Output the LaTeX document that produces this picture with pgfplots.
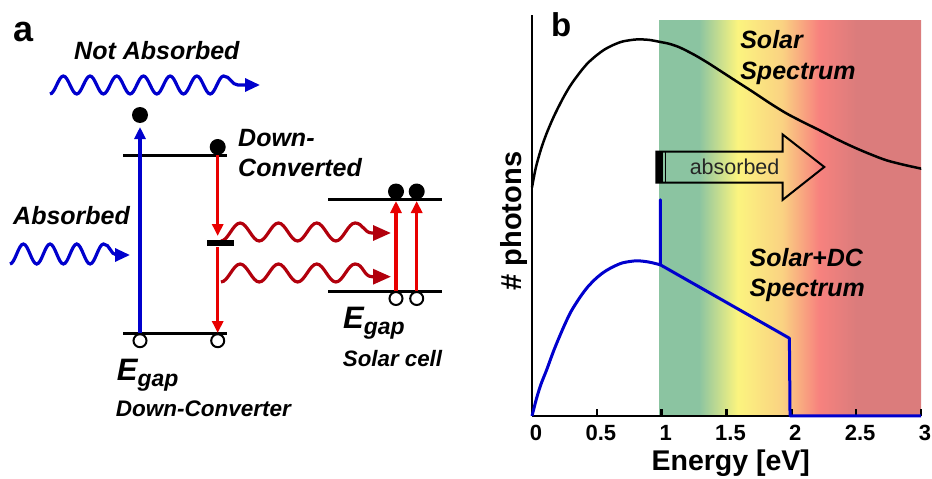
\documentclass[border=0pt]{standalone}
\usepackage{pgfplots}
\pgfplotsset{compat=1.18}
\usepackage{fontspec}
\setmainfont{Liberation Sans}
\usetikzlibrary{arrows.meta}

\definecolor{lineblue}{RGB}{0,0,205}
\definecolor{arrowred}{RGB}{232,0,0}
\definecolor{photonred}{RGB}{178,0,12}
\definecolor{bandgreen}{RGB}{139,196,161}
\definecolor{bandyellow}{RGB}{251,244,127}
\definecolor{bandorange}{RGB}{250,210,130}
\definecolor{bandsalmon}{RGB}{247,130,126}
\definecolor{bandred}{RGB}{219,124,124}

% spectral colour band: the usable part runs from 25bp to 75bp
\pgfdeclarehorizontalshading{solarband}{100bp}{%
  color(0bp)=(bandgreen); color(25bp)=(bandgreen); color(32.6bp)=(bandgreen);
  color(40bp)=(bandyellow); color(48.5bp)=(bandorange); color(55.5bp)=(bandsalmon);
  color(62.7bp)=(bandred); color(75bp)=(bandred); color(100bp)=(bandred)}

\newcommand\fs[1]{\fontsize{#1}{#1}\selectfont}

\begin{document}
\begin{tikzpicture}

% ---- panel b: colour band behind the spectra ----
\begin{axis}[at={(532pt,63pt)}, anchor=south west, scale only axis,
  width=389pt, height=401pt, xmin=0, xmax=3, ymin=0, ymax=100, hide axis]
  \shade[shading=solarband] (axis cs:0.98,0) rectangle (axis cs:3,98.6);
\end{axis}

% ---- panel b: spectra ----
\begin{axis}[at={(532pt,63pt)}, anchor=south west, scale only axis,
  width=389pt, height=401pt, xmin=0, xmax=3, ymin=0, ymax=100,
  axis lines=left, axis line style={line width=2.5pt, -},
  xtick={0,0.5,1,1.5,2,2.5,3}, ytick=\empty,
  tick align=inside, major tick length=7pt,
  tick style={line width=2.5pt, black},
  /pgf/number format/assume math mode=true,
  xticklabel style={font=\fs{22}\bfseries, inner sep=0pt, yshift=-9pt, xshift=4pt},
  xlabel={Energy [eV]}, ylabel={\# photons},
  xlabel style={font=\fs{28.5}\bfseries, at={(axis description cs:0.511,-0.137)}, anchor=base},
  ylabel style={font=\fs{29}\bfseries, at={(axis description cs:-0.028,0.486)}, anchor=base},
  clip=false]

  % solar photon spectrum
  \addplot[black, line width=2.5pt, smooth] coordinates {
    (0,57.0) (0.03,62.0) (0.07,66.6) (0.113,70.5) (0.17,74.8) (0.24,79.3)
    (0.30,82.6) (0.37,85.7) (0.43,88.0) (0.5,90.0) (0.56,91.4) (0.625,92.5)
    (0.7,93.4) (0.805,93.9) (0.9,93.8) (0.985,93.3) (1.06,92.8) (1.14,91.9)
    (1.25,90.1) (1.35,88.2) (1.446,86.2) (1.57,83.6) (1.70,80.9) (1.83,78.1)
    (1.96,75.5) (2.09,73.3) (2.215,71.3) (2.34,69.2) (2.47,67.2) (2.6,65.4)
    (2.73,63.8) (2.86,62.7) (2.985,61.8) (3.0,61.7)};

  % solar + down-converted spectrum
  \addplot[lineblue, line width=3pt, smooth] coordinates {
    (0,0) (0.036,4.5) (0.07,8.0) (0.113,11.5) (0.17,16.5) (0.24,21.9)
    (0.30,26.0) (0.37,29.6) (0.43,32.2) (0.5,34.5) (0.56,36.0) (0.625,37.2)
    (0.7,38.2) (0.805,38.7) (0.9,38.4) (0.99,37.7)};
  \addplot[lineblue, line width=3pt, line join=round] coordinates {
    (0.99,37.7) (0.99,53.9) (0.99,37.7) (1.985,19.4) (1.99,0) (3,0)};

  \node[anchor=base west, inner sep=0pt, font=\fs{25}\bfseries\itshape] at (axis cs:1.605,91.7) {Solar};
  \node[anchor=base west, inner sep=0pt, font=\fs{25}\bfseries\itshape] at (axis cs:1.605,83.8) {Spectrum};
  \node[anchor=base west, inner sep=0pt, font=\fs{25}\bfseries\itshape] at (axis cs:1.677,37.2) {Solar+DC};
  \node[anchor=base west, inner sep=0pt, font=\fs{25}\bfseries\itshape] at (axis cs:1.677,29.7) {Spectrum};

  % hollow "absorbed" arrow
  \draw[line width=2pt, line join=miter] (axis cs:0.959,65.9) -- (axis cs:1.933,65.9)
    -- (axis cs:1.933,70.2) -- (axis cs:2.254,62.1) -- (axis cs:1.933,53.9)
    -- (axis cs:1.933,58.2) -- (axis cs:0.959,58.2) -- cycle;
  \fill (axis cs:0.959,58.2) rectangle (axis cs:1.010,65.9);
  \draw[line width=1.5pt] (axis cs:1.031,58.2) -- (axis cs:1.031,65.9);
  \node[anchor=base west, inner sep=0pt, font=\fs{21.5}, text=black!85] at (axis cs:1.215,60.1) {absorbed};
\end{axis}

% ---- panel a: energy-level scheme (coordinates in pt, y downwards) ----
\begin{axis}[at={(0pt,0pt)}, anchor=south west, scale only axis,
  width=932pt, height=479pt, xmin=0, xmax=932, ymin=0, ymax=479,
  y dir=reverse, hide axis, clip=false]

  \node[anchor=base west, inner sep=0pt, font=\fs{36}\bfseries] at (axis cs:13,42) {a};
  \node[anchor=base west, inner sep=0pt, font=\fs{33}\bfseries] at (axis cs:551,36.7) {b};

  \node[anchor=base west, inner sep=0pt, font=\fs{25}\bfseries\itshape] at (axis cs:74,59.5) {Not Absorbed};
  \node[anchor=base west, inner sep=0pt, font=\fs{25}\bfseries\itshape] at (axis cs:13,224) {Absorbed};
  \node[anchor=base west, inner sep=0pt, font=\fs{25}\bfseries\itshape] at (axis cs:238,146.7) {Down-};
  \node[anchor=base west, inner sep=0pt, font=\fs{25}\bfseries\itshape] at (axis cs:238,176.7) {Converted};
  \node[anchor=base west, inner sep=0pt, font=\bfseries\itshape] at (axis cs:343,328)
    {\fs{31}E\raisebox{-6pt}{\fs{23}gap}};
  \node[anchor=base west, inner sep=0pt, font=\fs{22.3}\bfseries\itshape] at (axis cs:342.7,366) {Solar cell};
  \node[anchor=base west, inner sep=0pt, font=\bfseries\itshape] at (axis cs:116.7,380)
    {\fs{31}E\raisebox{-6pt}{\fs{23}gap}};
  \node[anchor=base west, inner sep=0pt, font=\fs{22.5}\bfseries\itshape] at (axis cs:115.7,416.7) {Down-Converter};

  % photons
  \draw[lineblue, line width=3.2pt, -{Triangle[length=15pt,width=13pt]}]
    (axis cs:50,94) \foreach \i in {1,...,6}{ cos ++(6.675pt,9pt) sin ++(6.675pt,9pt) cos ++(6.675pt,-9pt) sin ++(6.675pt,-9pt) }
    cos ++(6.675pt,9pt) sin ++(6.675pt,9pt) to[out=0,in=180] (axis cs:238,85) -- (axis cs:260,85);
  \draw[lineblue, line width=3.2pt, -{Triangle[length=15pt,width=13pt]}]
    (axis cs:10,264) \foreach \i in {1,...,3}{ cos ++(6.675pt,10pt) sin ++(6.675pt,10pt) cos ++(6.675pt,-10pt) sin ++(6.675pt,-10pt) }
    cos ++(6.675pt,10pt) sin ++(6.675pt,10pt) to[out=0,in=180] (axis cs:117,255) -- (axis cs:130,255);
  \draw[photonred, line width=3.2pt, -{Triangle[length=18pt,width=15pt]}]
    (axis cs:221,241) \foreach \i in {1,...,3}{ cos ++(9.575pt,9pt) sin ++(9.575pt,9pt) cos ++(9.575pt,-9pt) sin ++(9.575pt,-9pt) }
    cos ++(9.575pt,9pt) sin ++(9.575pt,9pt) to[out=0,in=180] (axis cs:372,233) -- (axis cs:391,233);
  \draw[photonred, line width=3.2pt, -{Triangle[length=18pt,width=15pt]}]
    (axis cs:221,282) \foreach \i in {1,...,3}{ cos ++(9.575pt,9pt) sin ++(9.575pt,9pt) cos ++(9.575pt,-9pt) sin ++(9.575pt,-9pt) }
    cos ++(9.575pt,9pt) sin ++(9.575pt,9pt) to[out=0,in=180] (axis cs:372,276.7) -- (axis cs:391,276.7);

  % levels
  \draw[line width=3pt] (axis cs:123,155) -- (axis cs:227,155);
  \draw[line width=3pt] (axis cs:123,333) -- (axis cs:227,333);
  \draw[line width=6pt] (axis cs:207,243.3) -- (axis cs:234,243.3);
  \draw[line width=3pt] (axis cs:328,199) -- (axis cs:441.7,199);
  \draw[line width=3pt] (axis cs:328,291) -- (axis cs:441.7,291);

  % transitions
  \draw[lineblue, line width=3.2pt, -{Triangle[length=12pt,width=11pt]}] (axis cs:140,333) -- (axis cs:140,127);
  \draw[arrowred, line width=3.2pt, -{Triangle[length=12pt,width=11pt]}] (axis cs:217.7,155) -- (axis cs:217.7,236);
  \draw[arrowred, line width=3.2pt, -{Triangle[length=12pt,width=11pt]}] (axis cs:217.7,247) -- (axis cs:217.7,333);
  \draw[arrowred, line width=3.2pt, -{Triangle[length=12pt,width=11pt]}] (axis cs:396,291) -- (axis cs:396,201);
  \draw[arrowred, line width=3.2pt, -{Triangle[length=12pt,width=11pt]}] (axis cs:416.7,291) -- (axis cs:416.7,201);

  % electrons and holes
  \fill (axis cs:140,115) circle[radius=8pt];
  \fill (axis cs:217.7,147) circle[radius=8pt];
  \fill (axis cs:396,191.5) circle[radius=8pt];
  \fill (axis cs:416.7,191.5) circle[radius=8pt];
  \draw[line width=2pt, fill=white] (axis cs:140,340.7) circle[radius=6.5pt];
  \draw[line width=2pt, fill=white] (axis cs:217.7,340.7) circle[radius=6.5pt];
  \draw[line width=2pt, fill=white] (axis cs:396,298.5) circle[radius=6.5pt];
  \draw[line width=2pt, fill=white] (axis cs:416.7,298.5) circle[radius=6.5pt];
\end{axis}

\pgfresetboundingbox
\path[use as bounding box] (0,0) rectangle (932pt,479pt);
\end{tikzpicture}
\end{document}
